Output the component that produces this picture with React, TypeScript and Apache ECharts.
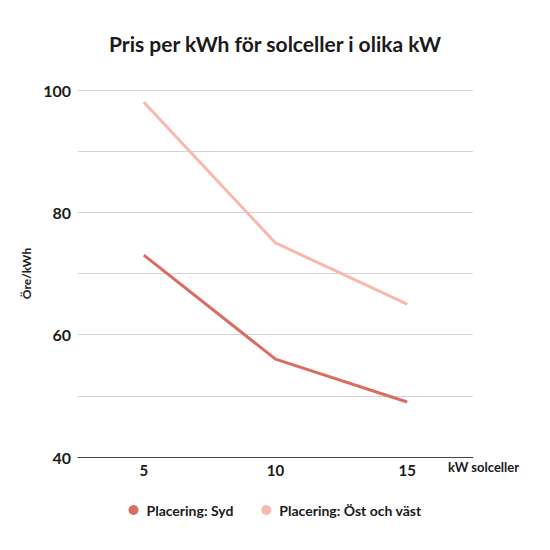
import React, { useEffect, useRef } from "react";
import * as echarts from "echarts";

const categories = ["5", "10", "15"];
const sydValues = [73, 56, 49];
const ostVastValues = [98, 75, 65];
const seriesNames = ["Placering: Syd", "Placering: Öst och väst"];
const colors = ["#dc6b61", "#f9b8ac"];

export default function App() {
  const ref = useRef<HTMLDivElement>(null);
  useEffect(() => {
    const chart = echarts.init(ref.current!, null, { renderer: "svg" });
    const font = "Lato, 'Noto Sans', sans-serif";
    chart.setOption({
      animation: false,
      backgroundColor: "#ffffff",
      textStyle: { fontFamily: font },
      title: {
        text: "Pris per kWh för solceller i olika kW",
        left: "center",
        top: 28,
        textStyle: { fontFamily: font, fontWeight: "bold", fontSize: 21, color: "#1a1a1a" },
      },
      grid: { left: 78, right: 77, top: 90, bottom: 93, containLabel: false },
      legend: {
        bottom: 28,
        left: "center",
        itemGap: 28,
        icon: "circle",
        itemWidth: 10,
        itemHeight: 10,
        textStyle: { fontFamily: font, fontWeight: "bold", fontSize: 14, color: "#1a1a1a", padding: [0, 0, 0, 3] },
        data: seriesNames,
      },
      xAxis: {
        type: "category",
        data: categories,
        boundaryGap: true,
        name: "kW solceller",
        nameLocation: "end",
        nameGap: -25,
        nameTextStyle: { fontFamily: font, fontWeight: "bold", fontSize: 13, color: "#1a1a1a", align: "left", verticalAlign: "top", padding: [3, 0, 0, 0] },
        axisLine: { show: true, lineStyle: { color: "#444", width: 1 } },
        axisTick: { show: false },
        axisLabel: { fontFamily: font, fontWeight: "bold", fontSize: 15, color: "#1a1a1a", margin: 5 },
      },
      yAxis: {
        type: "value",
        min: 40,
        max: 100,
        interval: 10,
        name: "Öre/kWh",
        nameLocation: "middle",
        nameGap: 36,
        nameRotate: 90,
        nameTextStyle: { fontFamily: font, fontWeight: "bold", fontSize: 12, color: "#1a1a1a" },
        axisLine: { show: false },
        axisTick: { show: false },
        splitLine: { lineStyle: { color: "#d4d4d4", width: 1 } },
        axisLabel: {
          fontFamily: font,
          fontWeight: "bold",
          fontSize: 16,
          color: "#1a1a1a",
          margin: 7,
          formatter: (v: number) => (v % 20 === 0 ? String(v) : ""),
        },
      },
      series: [
        {
          name: seriesNames[0],
          type: "line",
          data: sydValues,
          color: colors[0],
          symbol: "none",
          lineStyle: { width: 3, color: colors[0] },
        },
        {
          name: seriesNames[1],
          type: "line",
          data: ostVastValues,
          color: colors[1],
          symbol: "none",
          lineStyle: { width: 3, color: colors[1] },
        },
      ],
    });
    return () => chart.dispose();
  }, []);
  return <div ref={ref} style={{ width: 550, height: 550, margin: -8 }} />;
}
